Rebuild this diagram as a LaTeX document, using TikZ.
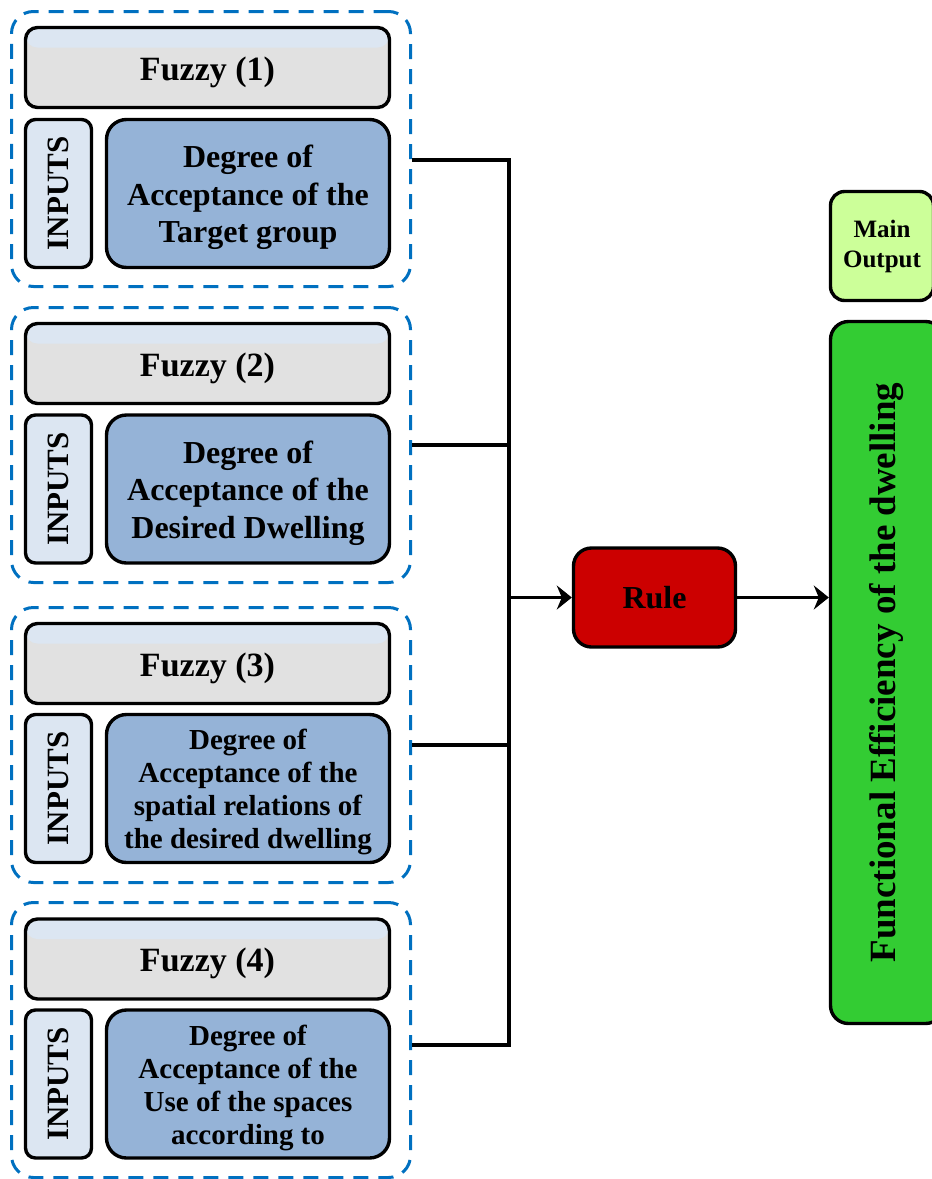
\documentclass[tikz,border=0pt]{standalone}
\usepackage{fontspec}
\setmainfont{Liberation Serif}
\usepackage{xcolor}
\usetikzlibrary{arrows.meta}

\definecolor{dashblue}{HTML}{0070C0}
\definecolor{paleblue}{HTML}{DCE6F2}
\definecolor{headgray}{HTML}{E1E1E1}
\definecolor{inblue}{HTML}{95B3D7}
\definecolor{rulered}{HTML}{CC0000}
\definecolor{palegreen}{HTML}{CCFF99}
\definecolor{bargreen}{HTML}{33CC33}

\begin{document}
\begin{tikzpicture}[x=1pt, y=-1pt,
    group/.style={draw=dashblue, line width=3pt, dash pattern=on 15pt off 10pt, rounded corners=22pt, minimum width=399pt, minimum height=275pt, inner sep=0pt},
    box/.style={draw, line width=3.4pt, inner sep=0pt, align=center},
    head/.style={box, fill=headgray, rounded corners=12pt, minimum width=364pt, minimum height=80pt, text height=27pt, text depth=2pt, font=\fontsize{34}{40}\selectfont\bfseries,
        path picture={\fill[paleblue] (path picture bounding box.north west) rectangle ([yshift=-20pt]path picture bounding box.north east);}},
    inputs/.style={box, fill=paleblue, rounded corners=10pt, rotate=90, minimum width=148pt, minimum height=66pt, font=\fontsize{31}{36}\selectfont\bfseries},
    desc/.style={box, fill=inblue, rounded corners=20pt, minimum width=283pt, minimum height=148pt},
    big/.style={align=center, font=\fontsize{32}{37.5}\selectfont\bfseries},
    small/.style={align=center, font=\fontsize{29}{33}\selectfont\bfseries},
    wire/.style={line width=3.4pt},
    arrow/.style={-{Stealth[length=15pt, width=24pt, inset=5pt]}, line width=3.4pt}
]
\useasboundingbox (0,0) rectangle (932,1179);

% Fuzzy (1)
\node[group] (g1) at (211,149) {};
\node[head] (h1) at (207.5,67.5) {Fuzzy (1)};
\node[inputs] (in1) at (58.5,193.5) {INPUTS};
\node[desc] (d1) at (248,193.5) {};
\node[big] (t1) at ([yshift=-4pt]d1.center) {Degree of\\Acceptance of the\\Target group};

% Fuzzy (2)
\node[group] (g2) at (211,445) {};
\node[head] (h2) at (207.5,363.5) {Fuzzy (2)};
\node[inputs] (in2) at (58.5,489) {INPUTS};
\node[desc] (d2) at (248,489) {};
\node[big] (t2) at ([yshift=-4pt]d2.center) {Degree of\\Acceptance of the\\Desired Dwelling};

% Fuzzy (3)
\node[group] (g3) at (211,745) {};
\node[head] (h3) at (207.5,663.5) {Fuzzy (3)};
\node[inputs] (in3) at (58.5,788.5) {INPUTS};
\node[desc] (d3) at (248,788.5) {};
\node[small] (t3) at ([yshift=-3pt]d3.center) {Degree of\\Acceptance of the\\spatial relations of\\the desired dwelling};

% Fuzzy (4)
\node[group] (g4) at (211,1040) {};
\node[head] (h4) at (207.5,959) {Fuzzy (4)};
\node[inputs] (in4) at (58.5,1084) {INPUTS};
\node[desc] (d4) at (248,1084) {};
\node[small] (t4) at ([yshift=-4pt]d4.center) {Degree of\\Acceptance of the\\Use of the spaces\\according to};

% Rule and output
\node[box, fill=rulered, rounded corners=18pt, minimum width=162pt, minimum height=99pt, font=\fontsize{32}{36}\selectfont\bfseries] (rule) at (654.5,597.5) {Rule};
\node[box, fill=palegreen, rounded corners=14pt, minimum width=103pt, minimum height=109pt, font=\fontsize{25}{30}\selectfont\bfseries] (mainout) at (882,246) {Main\\Output};
\node[box, fill=bargreen, rounded corners=18pt, rotate=90, minimum width=702pt, minimum height=113pt, font=\fontsize{37}{42}\selectfont\bfseries] (bar) at (887,672.5) {Functional Efficiency of the dwelling};

% Bus joining the four blocks
\coordinate (bus) at (509,597.5);
\draw[wire] ([yshift=-11pt]g1.east) -| (bus);
\draw[wire] (g2.east) -| (bus);
\draw[wire] (g3.east) -| (bus);
\draw[wire] ([yshift=-5pt]g4.east) -| (bus);

% Arrows
\draw[arrow] (bus) -- (rule.west);
\draw[arrow] (rule.east) -- (rule.east -| bar.north);

\end{tikzpicture}
\end{document}
